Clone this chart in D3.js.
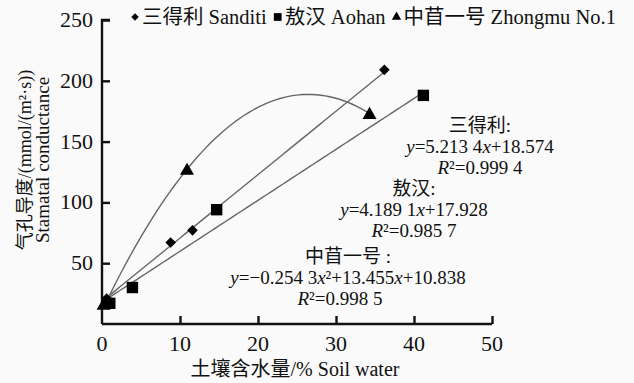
<!DOCTYPE html>
<html>
<head>
<meta charset="utf-8">
<script src="https://cdn.jsdelivr.net/npm/d3@7"></script>
<style>
  body { margin: 0; background: #fafafa; }
  svg text { font-family: "Liberation Serif", "Times New Roman", "DejaVu Serif", "Noto Sans CJK SC"; fill: #111; }
</style>
</head>
<body>
<div id="chart"></div>
<script>
// Données
const seriesNames = ["三得利 Sanditi", "敖汉 Aohan", "中苜一号 Zhongmu No.1"];
const sanditiX = [0.6, 8.8, 11.6, 36.2];
const sanditiY = [21, 67, 77, 209];
const aohanX = [1.0, 3.9, 14.7, 41.2];
const aohanY = [17, 30, 94, 188];
const zhongmuX = [0.2, 10.9, 34.3];
const zhongmuY = [15, 126, 172];

// Coefficients des courbes de tendance (écrits sur la figure)
const sanditiFit = [0, 5.2134, 18.574];
const aohanFit = [0, 4.1891, 17.928];
const zhongmuFit = [-0.2543, 13.455, 10.838];

const xTicks = [0, 10, 20, 30, 40, 50];
const yTicks = [50, 100, 150, 200, 250];

const annotations = [
  ["三得利:", "y=5.213 4x+18.574", "R²=0.999 4"],
  ["敖汉:", "y=4.189 1x+17.928", "R²=0.985 7"],
  ["中苜一号 :", "y=−0.254 3x²+13.455x+10.838", "R²=0.998 5"]
];

const width = 634, height = 383;
const svg = d3.select("#chart").append("svg")
  .attr("width", width).attr("height", height);

const x = d3.scaleLinear().domain([0, 50]).range([102, 492]);
const y = d3.scaleLinear().domain([0, 250]).range([324, 20]);

const series = [
  { name: seriesNames[0], xs: sanditiX, ys: sanditiY, fit: sanditiFit, sym: "diamond" },
  { name: seriesNames[1], xs: aohanX, ys: aohanY, fit: aohanFit, sym: "square" },
  { name: seriesNames[2], xs: zhongmuX, ys: zhongmuY, fit: zhongmuFit, sym: "triangle" }
];

// texte mixte : x/y/R en italique dans les équations
function richText(t, str, italics) {
  if (!italics) return t.text(str);
  str.split(/([xyR])/).filter(q => q.length).forEach(q => {
    t.append("tspan").text(q).style("font-style", /^[xyR]$/.test(q) ? "italic" : "normal");
  });
  return t;
}

// courbes de tendance
const line = d3.line().x(d => x(d[0])).y(d => y(d[1]));
series.forEach(s => {
  const [a, b, c] = s.fit;
  const x0 = d3.min(s.xs), x1 = d3.max(s.xs);
  const pts = d3.range(0, 61).map(i => {
    const xv = x0 + (x1 - x0) * i / 60;
    return [xv, a * xv * xv + b * xv + c];
  });
  svg.append("path").attr("d", line(pts))
    .attr("fill", "none").attr("stroke", "#666").attr("stroke-width", 1.4);
});

// axes
const axisColor = "#111";
const yAxis = svg.append("g").attr("transform", `translate(${x(0)},0)`)
  .call(d3.axisRight(y).tickValues(yTicks).tickSize(8).tickFormat(""));
yAxis.select(".domain").attr("d", `M8,${y(250)}H0V${y(0)}`);
const xAxis = svg.append("g").attr("transform", `translate(0,${y(0)})`)
  .call(d3.axisTop(x).tickValues(xTicks.slice(1)).tickSize(8).tickFormat(""));
xAxis.select(".domain").attr("d", `M${x(0)},0H${x(50)}`);
svg.selectAll(".domain, .tick line").attr("stroke", axisColor).attr("stroke-width", 2.4);

svg.append("g").selectAll("text").data(yTicks).join("text")
  .attr("x", 93).attr("y", d => y(d) + 7)
  .attr("text-anchor", "end").style("font-size", "22px").text(d => d);
svg.append("g").selectAll("text").data(xTicks).join("text")
  .attr("x", d => x(d)).attr("y", 351)
  .attr("text-anchor", "middle").style("font-size", "22px").text(d => d);

// titres des axes
svg.append("text").attr("x", 295).attr("y", 376).attr("text-anchor", "middle")
  .style("font-size", "20px").text("土壤含水量/% Soil water");
const yTitle = svg.append("g").attr("transform", "translate(0,160) rotate(-90)")
  .attr("text-anchor", "middle");
yTitle.append("text").attr("x", 0).attr("y", 31).style("font-size", "18px")
  .text("气孔导度/(mmol/(m²·s))");
yTitle.append("text").attr("x", 0).attr("y", 49).style("font-size", "19px").text("Stamatal conductance");

// symboles
function symbolPath(sym, big) {
  if (sym === "diamond") return d3.symbol(d3.symbolSquare, big ? 56 : 28)();
  if (sym === "square") return d3.symbol(d3.symbolSquare, big ? 130 : 60)();
  return d3.symbol(d3.symbolTriangle, big ? 85 : 38)();
}
series.forEach(s => {
  svg.append("g").selectAll("path").data(d3.zip(s.xs, s.ys)).join("path")
    .attr("d", symbolPath(s.sym, true))
    .attr("transform", d => `translate(${x(d[0])},${y(d[1])})` + (s.sym === "diamond" ? " rotate(45)" : ""))
    .attr("fill", "#000");
});

// légende
let lx = 135;
series.forEach(s => {
  svg.append("path").attr("d", symbolPath(s.sym, false))
    .attr("transform", `translate(${lx},17)` + (s.sym === "diamond" ? " rotate(45)" : ""))
    .attr("fill", "#000");
  const t = svg.append("text").attr("x", lx + 7).attr("y", 24)
    .style("font-size", "20.5px").text(s.name);
  lx += 7 + t.node().getComputedTextLength() + 11;
});

// équations
const annoX = [480, 414, 348];
const annoY = [[132, 153, 174], [195, 216, 237], [263, 284, 305]];
const annoG = svg.append("g");
annotations.forEach((lines, i) => {
  lines.forEach((str, j) => {
    const t = annoG.append("text").attr("x", annoX[i] + (i === 2 && j === 2 ? -8 : 0))
      .attr("y", annoY[i][j]).attr("text-anchor", "middle").style("font-size", "19px");
    richText(t, str, true);
  });
});
</script>
</body>
</html>
